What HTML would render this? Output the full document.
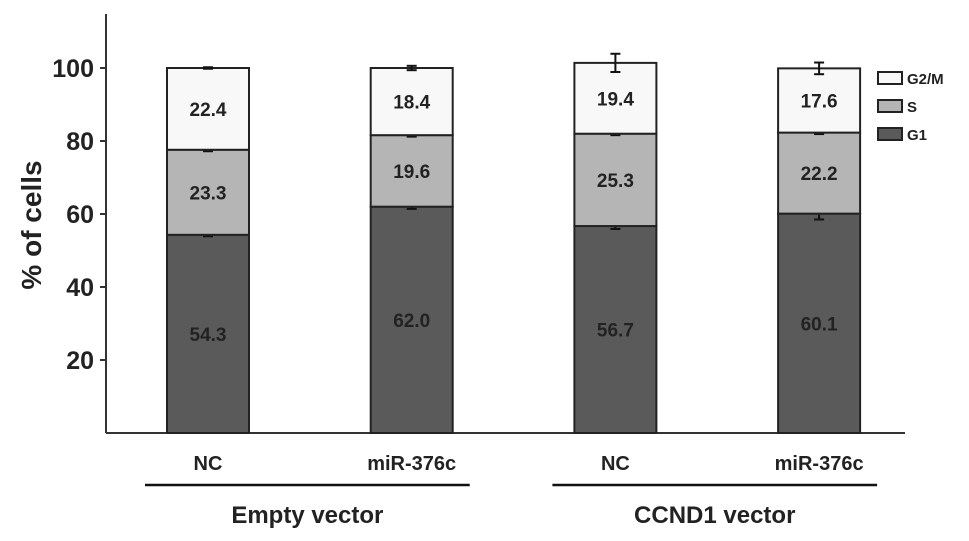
<!DOCTYPE html>
<html><head><meta charset="utf-8"><style>
body{margin:0;background:#fff}
svg{display:block;font-family:"Liberation Sans",Arial,sans-serif;font-weight:bold}
</style></head><body>
<svg id="c" width="969" height="541"></svg>
<script>
const categories=["NC","miR-376c","NC","miR-376c"];
const g1=[54.3,62.0,56.7,60.1];
const sPhase=[23.3,19.6,25.3,22.2];
const g2m=[22.4,18.4,19.4,17.6];
const g1Err=[0.4,0.6,0.8,1.6];
const sErr=[0.4,0.4,0.4,0.4];
const g2mErr=[0.2,0.6,2.5,1.6];
const yTicks=[20,40,60,80,100];
const groups=["Empty vector","CCND1 vector"];

const svg=document.getElementById('c');
const NS='http://www.w3.org/2000/svg';
function el(t,a,p){const e=document.createElementNS(NS,t);for(const k in a)e.setAttribute(k,a[k]);(p||svg).appendChild(e);return e;}
const y0=433,pxPer=3.65;
const y=v=>y0-v*pxPer;
const barX=i=>208+i*203.7;
const bw=82;

const ax=el('line',{x1:106,y1:14,x2:106,y2:433,stroke:'#333','stroke-width':2});

const bl=el('line',{x1:106,y1:433,x2:905,y2:433,stroke:'#333','stroke-width':2});

yTicks.forEach(v=>{
  const t=el('line',{x1:100,x2:106,y1:y(v),y2:y(v),stroke:'#333','stroke-width':2});
  
  const l=el('text',{x:94,y:y(v)+9,'text-anchor':'end','font-size':25,fill:'#222'});l.textContent=v;
  
});
const yt=el('text',{x:0,y:0,'font-size':28,fill:'#222','text-anchor':'middle',transform:'translate(41,225) rotate(-90)'});
yt.textContent='% of cells';

const series=[[g1,g1Err,'#5a5a5a','g1'],[sPhase,sErr,'#b5b5b5','s'],[g2m,g2mErr,'#f8f8f8','g2m']];
categories.forEach((c,i)=>{
  let base=0;const cx=barX(i);
  series.forEach(([vals,errs,col,nm])=>{
    const v=vals[i];
    const r=el('rect',{x:cx-bw/2,y:y(base+v),width:bw,height:v*pxPer,fill:col,stroke:'#222','stroke-width':2});
    
    const tx=el('text',{x:cx,y:y(base+v/2)+7,'text-anchor':'middle','font-size':19,fill:'#222'});tx.textContent=v.toFixed(1);
    
    const top=base+v,e=errs[i];
    const g=el('g',{stroke:'#111','stroke-width':2});
    
    el('line',{x1:cx,x2:cx,y1:y(top+e),y2:y(top-e)},g);
    el('line',{x1:cx-5,x2:cx+5,y1:y(top+e),y2:y(top+e)},g);
    el('line',{x1:cx-5,x2:cx+5,y1:y(top-e),y2:y(top-e)},g);
    base=top;
  });
  const cl=el('text',{x:cx,y:470,'text-anchor':'middle','font-size':20,fill:'#222'});cl.textContent=c;
  
});
groups.forEach((g,j)=>{
  const x1=barX(j*2)-63,x2=barX(j*2+1)+58;
  const ln=el('line',{x1:x1,x2:x2,y1:485,y2:485,stroke:'#111','stroke-width':2.5});
  
  const t=el('text',{x:(x1+x2)/2,y:523,'text-anchor':'middle','font-size':24,fill:'#222'});t.textContent=g;
  
});
[['G2/M','#f8f8f8',72],['S','#b5b5b5',100],['G1','#5a5a5a',128]].forEach(([n,c,yy])=>{
  const r=el('rect',{x:878,y:yy,width:24,height:12,fill:c,stroke:'#222','stroke-width':2});
  
  const t=el('text',{x:907,y:yy+12,'font-size':15,fill:'#222'});t.textContent=n;
  
});
</script>
</body></html>
